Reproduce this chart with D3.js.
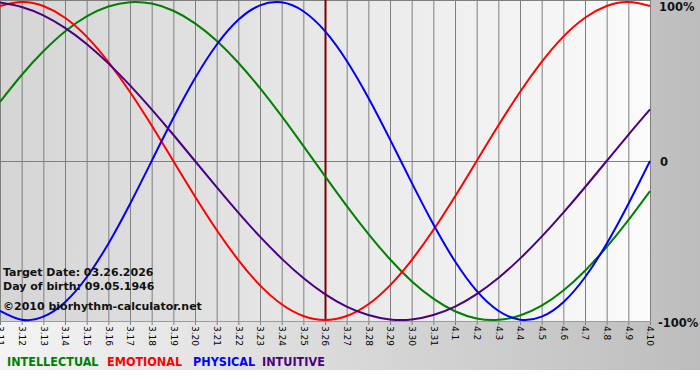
<!DOCTYPE html>
<html>
<head>
<meta charset="utf-8">
<script src="https://cdn.jsdelivr.net/npm/d3@7"></script>
<style>
  body { margin: 0; background: #ffffff; }
  svg { display: block; }
</style>
</head>
<body>
<div id="chart"></div>
<script>
// day labels along the bottom (month.day)
const days = ['3.11', '3.12', '3.13', '3.14', '3.15', '3.16', '3.17', '3.18', '3.19', '3.20',
  '3.21', '3.22', '3.23', '3.24', '3.25', '3.26', '3.27', '3.28', '3.29', '3.30', '3.31',
  '4.1', '4.2', '4.3', '4.4', '4.5', '4.6', '4.7', '4.8', '4.9', '4.10'];

// cycle values in percent, one per day
const intellectual = [37.2, 54.1, 69.0, 81.5, 91.0, 97.2, 99.9, 99.0, 94.5, 86.6,
  75.6, 61.8, 45.8, 28.2, 9.5, -9.5, -28.2, -45.8, -61.8, -75.6, -86.6,
  -94.5, -99.0, -99.9, -97.2, -91.0, -81.5, -69.0, -54.1, -37.2, -18.9];
const emotional = [97.5, 100, 97.5, 90.1, 78.2, 62.3, 43.4, 22.3, 0, -22.3,
  -43.4, -62.3, -78.2, -90.1, -97.5, -100, -97.5, -90.1, -78.2, -62.3, -43.4,
  -22.3, 0, 22.3, 43.4, 62.3, 78.2, 90.1, 97.5, 100, 97.5];
const physical = [-94.2, -99.8, -97.9, -88.8, -73.1, -52.0, -27.0, 0, 27.0, 52.0,
  73.1, 88.8, 97.9, 99.8, 94.2, 81.7, 63.1, 39.8, 13.6, -13.6, -39.8,
  -63.1, -81.7, -94.2, -99.8, -97.9, -88.8, -73.1, -52.0, -27.0, 0];
const intuitive = [99.7, 96.9, 91.6, 83.7, 73.6, 61.4, 47.6, 32.5, 16.5, 0,
  -16.5, -32.5, -47.6, -61.4, -73.6, -83.7, -91.6, -96.9, -99.7, -99.7, -96.9,
  -91.6, -83.7, -73.6, -61.4, -47.6, -32.5, -16.5, 0, 16.5, 32.5];

const targetDay = '3.26';
const infoLines = ['Target Date: 03.26.2026', 'Day of birth: 09.05.1946', '\u00a92010 biorhythm-calculator.net'];

const series = [
  {name: 'INTELLECTUAL', values: intellectual, color: '#008000'},
  {name: 'EMOTIONAL', values: emotional, color: '#ff0000'},
  {name: 'PHYSICAL', values: physical, color: '#0000ff'},
  {name: 'INTUITIVE', values: intuitive, color: '#4b0082'},
];

const W = 700;
const H = 380;
const plot = {left: 0, right: 650, top: 2, bottom: 320};

const svg = d3.select('#chart').append('svg')
    .attr('width', W)
    .attr('height', H);

const defs = svg.append('defs');
const bgGrad = defs.append('linearGradient').attr('id', 'bgGrad');
bgGrad.append('stop').attr('offset', '0%').attr('stop-color', '#f4f4f4');
bgGrad.append('stop').attr('offset', '100%').attr('stop-color', '#bdbdbd');
const plotGrad = defs.append('linearGradient').attr('id', 'plotGrad');
plotGrad.append('stop').attr('offset', '0%').attr('stop-color', '#d5d5d5');
plotGrad.append('stop').attr('offset', '100%').attr('stop-color', '#fbfbfb');

// outer background (stops above the white strip at the bottom)
svg.append('rect')
    .attr('x', 0).attr('y', 0)
    .attr('width', W).attr('height', 370)
    .attr('fill', 'url(#bgGrad)');

const x = d3.scalePoint()
    .domain(days)
    .range([plot.left, plot.right]);

const y = d3.scaleLinear()
    .domain([-100, 100])
    .range([plot.bottom, plot.top]);

// plot area
svg.append('rect')
    .attr('x', 0).attr('y', 0)
    .attr('width', plot.right + 1).attr('height', 321)
    .attr('fill', 'url(#plotGrad)');

// vertical day grid
svg.append('g')
    .selectAll('line')
    .data(days)
    .enter()
    .append('line')
    .attr('x1', (d) => x(d) + 0.5)
    .attr('x2', (d) => x(d) + 0.5)
    .attr('y1', 0)
    .attr('y2', 325)
    .attr('stroke', '#7f7f7f')
    .attr('stroke-width', 1);

// top and zero lines
svg.append('g')
    .selectAll('line')
    .data([100, 0])
    .enter()
    .append('line')
    .attr('x1', 0)
    .attr('x2', plot.right + 1)
    .attr('y1', (d) => Math.round(y(d)) + 0.5 - (d === 100 ? 2 : 0))
    .attr('y2', (d) => Math.round(y(d)) + 0.5 - (d === 100 ? 2 : 0))
    .attr('stroke', '#7f7f7f');

svg.append('line')
    .attr('x1', 0).attr('x2', plot.right + 1)
    .attr('y1', 321.5).attr('y2', 321.5)
    .attr('stroke', '#9a9a9a');

// target date marker
svg.append('line')
    .attr('x1', x(targetDay) + 0.5)
    .attr('x2', x(targetDay) + 0.5)
    .attr('y1', 0)
    .attr('y2', 321)
    .attr('stroke', '#800000')
    .attr('stroke-width', 2);

// cycle curves
const line = d3.line()
    .x((d, i) => x(days[i]))
    .y((d) => y(d))
    .curve(d3.curveNatural);

svg.append('g')
    .selectAll('path')
    .data(series)
    .enter()
    .append('path')
    .attr('d', (d) => line(d.values))
    .attr('fill', 'none')
    .attr('stroke', (d) => d.color)
    .attr('stroke-width', 2);

// rotated day labels
svg.append('g')
    .selectAll('text')
    .data(days)
    .enter()
    .append('text')
    .attr('transform', (d) => `translate(${x(d) + 0.5}, 326) rotate(90)`)
    .attr('dy', '0.35em')
    .style('font-family', '"DejaVu Sans", Verdana, sans-serif')
    .style('font-size', '9px')
    .style('fill', '#000')
    .text((d) => d);

// right side percent labels
svg.append('g')
    .selectAll('text')
    .data([100, 0, -100])
    .enter()
    .append('text')
    .attr('x', (d) => d < 0 ? 658 : (d === 0 ? 660 : 659))
    .attr('y', (d) => d === 100 ? 11 : (d === 0 ? 166 : 327))
    .style('font-family', '"DejaVu Sans", Verdana, sans-serif')
    .style('font-weight', 'bold')
    .style('font-size', '11.5px')
    .style('fill', '#111')
    .text((d) => d === 0 ? '0' : d + '%');

// info text over the plot
svg.append('g')
    .selectAll('text')
    .data(infoLines)
    .enter()
    .append('text')
    .attr('x', 3)
    .attr('y', (d, i) => [276, 290, 310][i])
    .style('font-family', '"DejaVu Sans", Verdana, sans-serif')
    .style('font-weight', 'bold')
    .style('font-size', '11px')
    .style('fill', '#111')
    .text((d) => d);

// legend
const legendX = [7, 107, 193, 262];
svg.append('g')
    .selectAll('text')
    .data(series)
    .enter()
    .append('text')
    .attr('x', (d, i) => legendX[i])
    .attr('y', 366)
    .style('font-family', '"DejaVu Sans Condensed", "DejaVu Sans", sans-serif')
    .style('font-weight', 'bold')
    .style('font-size', '12.5px')
    .style('fill', (d) => d.color)
    .text((d) => d.name);
</script>
</body>
</html>
